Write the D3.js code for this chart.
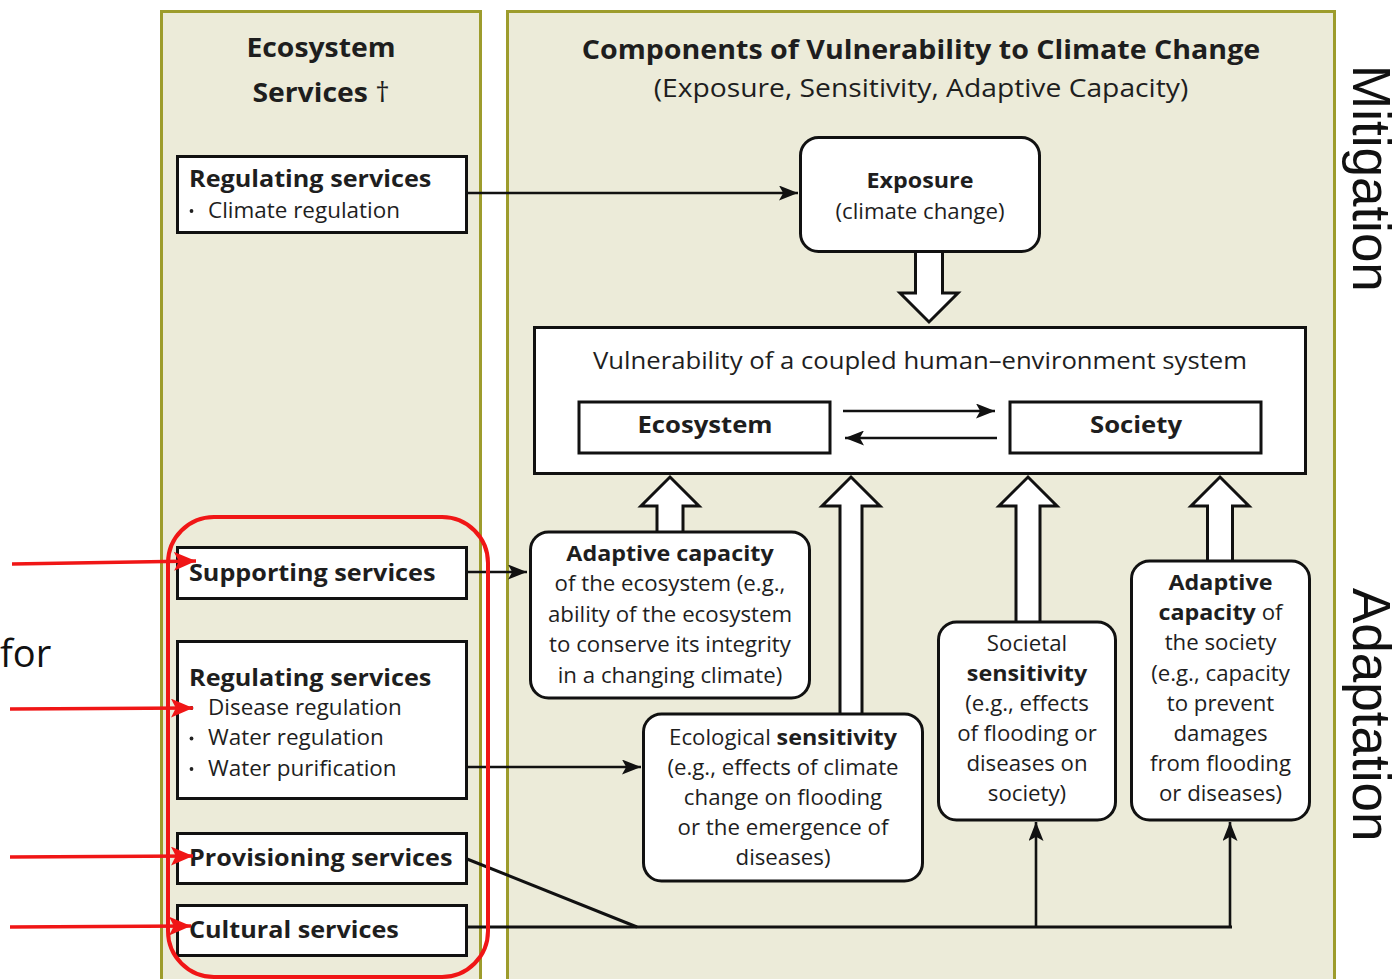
<!DOCTYPE html>
<html>
<head>
<meta charset="utf-8">
<script src="https://cdn.jsdelivr.net/npm/d3@7"></script>
<style>
  body { margin: 0; background: #fff; }
  svg { display: block; }
</style>
</head>
<body>
<svg id="fig"></svg>
<script>
"use strict";

// ---- content (text only; ** marks bold runs) ----
const leftTitle = ["**Ecosystem**", "**Services** †"];
const rightTitle = ["**Components of Vulnerability to Climate Change**"];
const rightSubtitle = ["(Exposure, Sensitivity, Adaptive Capacity)"];

const serviceNames = ["Regulating services", "Supporting services", "Regulating services", "Provisioning services", "Cultural services"];
const serviceItems = [["Climate regulation"], [], ["Disease regulation", "Water regulation", "Water purification"], [], []];

const componentIds = ["exposure", "adaptEco", "ecoSens", "socSens", "adaptSoc"];
const componentLines = [
    ["**Exposure**", "(climate change)"],
    ["**Adaptive capacity**", "of the ecosystem (e.g.,", "ability of the ecosystem", "to conserve its integrity", "in a changing climate)"],
    ["Ecological **sensitivity**", "(e.g., effects of climate", "change on flooding", "or the emergence of", "diseases)"],
    ["Societal", "**sensitivity**", "(e.g., effects", "of flooding or", "diseases on", "society)"],
    ["**Adaptive**", "**capacity** of", "the society", "(e.g., capacity", "to prevent", "damages", "from flooding", "or diseases)"]
];
const systemTitle = "Vulnerability of a coupled human–environment system";
const systemParts = ["Ecosystem", "Society"];
const sideLabels = ["Mitigation", "Adaptation"];
const strayWord = "for";

// ---- layout ----
const W = 1400, H = 979;
const FONT = "'Open Sans', sans-serif";
const BEIGE = "#ecebd9", OLIVE = "#9d9c2c", RED = "#f01616";

const panelBoxes = [
    {x: 161.5, y: 11.5, w: 319, h: 1000},
    {x: 507.5, y: 11.5, w: 827, h: 1000}
];
const serviceBoxes = [
    {x: 177.5, y: 156.5, w: 289, h: 76, base: 187, items: 218},
    {x: 177.5, y: 547.5, w: 289, h: 51, base: 581},
    {x: 177.5, y: 641.5, w: 289, h: 157, base: 686, items: 715},
    {x: 177.5, y: 833.5, w: 289, h: 50, base: 866},
    {x: 177.5, y: 905.5, w: 289, h: 50, base: 938}
];
const componentBoxes = [
    {x: 800.5, y: 137.5, w: 239, h: 114, base: 188, step: 31},
    {x: 530.5, y: 532, w: 279, h: 166, base: 561, step: 30.5},
    {x: 643.5, y: 714, w: 279, h: 167, base: 745, step: 30},
    {x: 938.5, y: 622, w: 177, h: 198, base: 651, step: 30},
    {x: 1131.5, y: 561, w: 178, h: 259, base: 590, step: 30.2}
];
// block arrows: centre x, tip y, tail y
const blockArrows = [
    {cx: 929, tip: 322, tail: 252, shaft: 13.5},
    {cx: 670, tip: 477, tail: 532, shaft: 13},
    {cx: 851, tip: 477, tail: 714, shaft: 11},
    {cx: 1028, tip: 477, tail: 622, shaft: 12},
    {cx: 1220, tip: 477, tail: 561, shaft: 12.5}
];
const arrowLinks = [
    [[467, 193], [798, 193]],
    [[467, 572], [527, 572]],
    [[467, 767], [641, 767]],
    [[843, 411], [995, 411]],
    [[997, 438], [845, 438]],
    [[1036, 927], [1036, 822]],
    [[1230, 927], [1230, 822]]
];
const plainLinks = [
    [[467, 859], [637, 927]],
    [[467, 927], [1232, 927]]
];
const redPointers = [
    [[12, 564], [196, 561]],
    [[10, 709], [193, 708]],
    [[10, 857], [193, 856]],
    [[10, 927], [191, 926]]
];

const svg = d3.select("#fig").attr("width", W).attr("height", H);
svg.append("rect").attr("width", W).attr("height", H).attr("fill", "#fff");

const defs = svg.append("defs");
function marker(id, color, len, wid) {
    defs.append("marker")
        .attr("id", id)
        .attr("markerUnits", "userSpaceOnUse")
        .attr("viewBox", `0 0 ${len} ${wid}`)
        .attr("refX", len).attr("refY", wid / 2)
        .attr("markerWidth", len).attr("markerHeight", wid)
        .attr("orient", "auto")
        .append("path")
        .attr("d", `M0,0L${len},${wid / 2}L0,${wid}L${len * 0.22},${wid / 2}Z`)
        .attr("fill", color);
}
marker("blk", "#111", 19, 15);
marker("red", RED, 22, 19);

// write lines with bold runs as tspans, stretched a bit horizontally like the source lettering
function writeLines(g, lines, x, y0, step, size, opts = {}) {
    const sx = opts.sx || 1.06;
    const t = g.selectAll(null).data(lines).enter().append("text")
        .attr("x", x)
        .attr("y", (d, i) => y0 + i * step)
        .attr("transform", `translate(${x},0) scale(${sx},1) translate(${-x},0)`)
        .attr("text-anchor", opts.anchor || "middle")
        .attr("font-family", FONT)
        .attr("font-size", size)
        .attr("fill", "#1e1e1e");
    t.selectAll("tspan").data(d => d.split("**").map((s, i) => ({s, bold: i % 2 === 1})).filter(p => p.s))
        .enter().append("tspan")
        .attr("font-weight", p => (p.bold || opts.bold) ? 700 : 400)
        .attr("font-size", p => (p.bold || opts.bold) ? (opts.boldSize || size) : size)
        .text(p => p.s);
    return t;
}

// panels
svg.append("g").selectAll("rect").data(panelBoxes).enter().append("rect")
    .attr("x", d => d.x).attr("y", d => d.y).attr("width", d => d.w).attr("height", d => d.h)
    .attr("fill", BEIGE).attr("stroke", OLIVE).attr("stroke-width", 3);

writeLines(svg.append("g"), leftTitle, 321, 57, 45, 27, {sx: 1.05});
writeLines(svg.append("g"), rightTitle, 921, 59, 0, 26, {sx: 1.1});
writeLines(svg.append("g"), rightSubtitle, 921, 97, 0, 25, {sx: 1.13});

// service boxes on the left
const sv = svg.append("g").selectAll("g").data(serviceBoxes).enter().append("g");
sv.append("rect")
    .attr("x", d => d.x).attr("y", d => d.y).attr("width", d => d.w).attr("height", d => d.h)
    .attr("fill", "#fff").attr("stroke", "#111").attr("stroke-width", 3);
sv.each(function (d, i) {
    const g = d3.select(this);
    writeLines(g, [serviceNames[i]], 189, d.base, 0, 24, {anchor: "start", bold: true, sx: 1.05});
    const items = serviceItems[i];
    if (items.length) {
        writeLines(g, items, 208, d.items, 30.5, 21, {anchor: "start", sx: 1.07});
        g.selectAll("circle").data(items).enter().append("circle")
            .attr("cx", 191.5).attr("cy", (it, k) => d.items - 7 + k * 30.5).attr("r", 1.9).attr("fill", "#222");
    }
});

// vulnerability system box
const sys = svg.append("g");
sys.append("rect").attr("x", 534.5).attr("y", 327.5).attr("width", 771).attr("height", 146)
    .attr("fill", "#fff").attr("stroke", "#111").attr("stroke-width", 3);
writeLines(sys, [systemTitle], 920, 369, 0, 24, {sx: 1.07});
const partBoxes = [{x: 579, cx: 705}, {x: 1010, cx: 1136}];
sys.selectAll(".part").data(partBoxes).enter().append("rect").attr("class", "part")
    .attr("x", d => d.x).attr("y", 402).attr("width", 251).attr("height", 51)
    .attr("fill", "#fff").attr("stroke", "#111").attr("stroke-width", 3);
partBoxes.forEach((p, i) => writeLines(sys, [systemParts[i]], p.cx, 433, 0, 24, {bold: true, sx: 1.07}));

// block arrows
const blockPath = d => {
    const dir = d.tail > d.tip ? 1 : -1;      // 1: points up
    const hb = d.tip + dir * 29;              // head base
    const s = d.shaft, h = 29;
    return `M${d.cx - s},${d.tail}L${d.cx - s},${hb}L${d.cx - h},${hb}L${d.cx},${d.tip}` +
        `L${d.cx + h},${hb}L${d.cx + s},${hb}L${d.cx + s},${d.tail}`;
};
svg.append("g").selectAll("path").data(blockArrows).enter().append("path")
    .attr("d", blockPath)
    .attr("fill", "#fff").attr("stroke", "#111").attr("stroke-width", 3).attr("stroke-linejoin", "miter");

// component boxes (rounded)
const cb = svg.append("g").selectAll("g").data(componentBoxes).enter().append("g")
    .attr("id", (d, i) => componentIds[i]);
cb.append("rect")
    .attr("x", d => d.x).attr("y", d => d.y).attr("width", d => d.w).attr("height", d => d.h)
    .attr("rx", 18).attr("fill", "#fff").attr("stroke", "#111").attr("stroke-width", 3);
cb.each(function (d, i) {
    writeLines(d3.select(this), componentLines[i], d.x + d.w / 2, d.base, d.step, 21, {boldSize: 22, sx: 1.06});
});

// connecting lines
const line = d3.line();
svg.append("g").selectAll("path").data(plainLinks).enter().append("path")
    .attr("d", line).attr("fill", "none").attr("stroke", "#111").attr("stroke-width", 3);
svg.append("g").selectAll("path").data(arrowLinks).enter().append("path")
    .attr("d", line).attr("fill", "none").attr("stroke", "#111").attr("stroke-width", 2.6)
    .attr("marker-end", "url(#blk)");

// red highlight
svg.append("rect").attr("x", 168).attr("y", 517).attr("width", 320).attr("height", 460).attr("rx", 46)
    .attr("fill", "none").attr("stroke", RED).attr("stroke-width", 4);
svg.append("g").selectAll("path").data(redPointers).enter().append("path")
    .attr("d", line).attr("fill", "none").attr("stroke", RED).attr("stroke-width", 3.5)
    .attr("marker-end", "url(#red)");

svg.append("text").attr("x", 0).attr("y", 667).attr("font-family", FONT).attr("font-size", 38)
    .attr("fill", "#111").text(strayWord);

// side labels
const sideY = [65, 588];
svg.append("g").selectAll("text").data(sideLabels).enter().append("text")
    .attr("transform", (d, i) => `translate(1353,${sideY[i]}) rotate(90)`)
    .attr("font-family", "'Liberation Sans', Arial, sans-serif")
    .attr("font-size", 53).attr("fill", "#111")
    .text(d => d);
</script>
</body>
</html>
